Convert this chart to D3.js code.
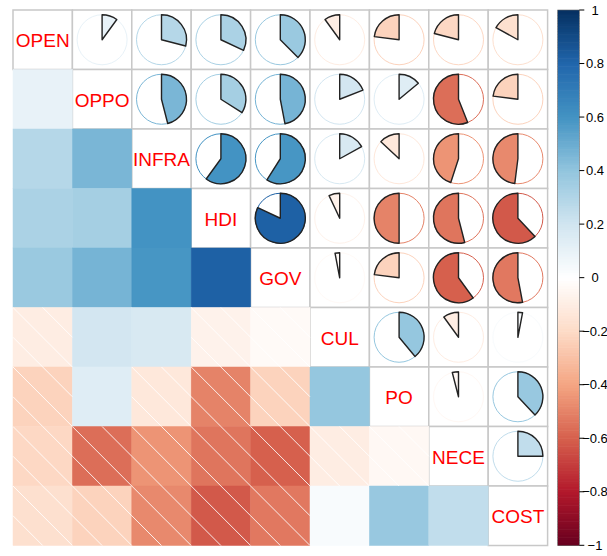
<!DOCTYPE html>
<html>
<head>
<meta charset="utf-8">
<script src="https://cdn.jsdelivr.net/npm/d3@7"></script>
<style>
  html, body { margin: 0; padding: 0; background: #fff; }
  svg { display: block; }
</style>
</head>
<body>
<svg id="chart" width="607" height="556"></svg>
<script>
// Variables, in matrix order
const vars = ["OPEN", "OPPO", "INFRA", "HDI", "GOV", "CUL", "PO", "NECE", "COST"];

// Lower-triangle correlations: row variable vs. each earlier variable
const corrOPPO  = [0.10];
const corrINFRA = [0.29, 0.46];
const corrHDI   = [0.32, 0.34, 0.60];
const corrGOV   = [0.375, 0.47, 0.59, 0.82];
const corrCUL   = [-0.10, 0.19, 0.17, -0.07, -0.03];
const corrPO    = [-0.23, 0.14, -0.13, -0.50, -0.23, 0.39];
const corrNECE  = [-0.21, -0.56, -0.45, -0.54, -0.60, -0.10, -0.04];
const corrCOST  = [-0.17, -0.23, -0.48, -0.62, -0.53, 0.03, 0.38, 0.25];

const legendTicks = [-1, -0.8, -0.6, -0.4, -0.2, 0, 0.2, 0.4, 0.6, 0.8, 1];
const paletteStops = ["#67001F", "#B2182B", "#D6604D", "#F4A582", "#FDDBC7", "#FFFFFF",
                      "#D1E5F0", "#92C5DE", "#4393C3", "#2166AC", "#053061"];

// Build full symmetric matrix
const lowerRows = [[], corrOPPO, corrINFRA, corrHDI, corrGOV, corrCUL, corrPO, corrNECE, corrCOST];
const n = vars.length;
const M = vars.map((_, i) => vars.map((_, j) => {
  if (i === j) return 1;
  return i > j ? lowerRows[i][j] : lowerRows[j][i];
}));

const svg = d3.select("#chart");

const x = d3.scaleBand().domain(vars).range([13, 547.6]);
const y = d3.scaleBand().domain(vars).range([10, 545.5]);
const cw = x.bandwidth(), ch = y.bandwidth();

const color = d3.scaleLinear()
  .domain(legendTicks)
  .range(paletteStops)
  .interpolate(d3.interpolateRgb);

const cells = [];
for (let i = 0; i < n; i++) for (let j = 0; j < n; j++) cells.push({ i, j, r: M[i][j] });

// Grid for upper triangle and diagonal
const upper = cells.filter(d => d.j >= d.i);
svg.append("g").selectAll("rect").data(upper).join("rect")
  .attr("x", d => x(vars[d.j]))
  .attr("y", d => y(vars[d.i]))
  .attr("width", cw).attr("height", ch)
  .attr("fill", "#fff")
  .attr("stroke", "#c8c8c8")
  .attr("stroke-width", 1.5);

// Lower triangle: shaded cells
const lower = cells.filter(d => d.i > d.j);
const shade = svg.append("g");
shade.selectAll("rect").data(lower).join("rect")
  .attr("x", d => x(vars[d.j]))
  .attr("y", d => y(vars[d.i]))
  .attr("width", cw).attr("height", ch)
  .attr("fill", d => color(d.r))
  .attr("stroke", d => color(d.r))
  .attr("stroke-width", 0.5);

// White hatching on negative cells
const hatch = [];
lower.filter(d => d.r < 0).forEach(d => {
  const x0 = x(vars[d.j]), y0 = y(vars[d.i]);
  hatch.push([x0, y0, x0 + cw, y0 + ch]);
  hatch.push([x0, y0 + ch / 2, x0 + cw / 2, y0 + ch]);
  hatch.push([x0 + cw / 2, y0, x0 + cw, y0 + ch / 2]);
});
shade.selectAll("line").data(hatch).join("line")
  .attr("x1", d => d[0]).attr("y1", d => d[1])
  .attr("x2", d => d[2]).attr("y2", d => d[3])
  .attr("stroke", "#fff")
  .attr("stroke-opacity", 0.85)
  .attr("stroke-width", 1);

// Upper triangle: pies
const R = 25;
const arc = d3.arc().innerRadius(0).outerRadius(R);
const pies = svg.append("g").selectAll("g").data(cells.filter(d => d.j > d.i)).join("g")
  .attr("transform", d => `translate(${x(vars[d.j]) + cw / 2},${y(vars[d.i]) + ch / 2})`);
pies.append("circle")
  .attr("r", R)
  .attr("fill", "none")
  .attr("stroke", d => color(d.r))
  .attr("stroke-width", 1);
pies.append("path")
  .attr("d", d => d.r >= 0
    ? arc({ startAngle: 0, endAngle: 2 * Math.PI * d.r })
    : arc({ startAngle: 2 * Math.PI * d.r, endAngle: 0 }))
  .attr("fill", d => color(d.r))
  .attr("stroke", "#222")
  .attr("stroke-width", 1.4)
  .attr("stroke-linejoin", "round");

// Diagonal labels
svg.append("g").selectAll("text").data(vars).join("text")
  .attr("x", d => x(d) + cw / 2)
  .attr("y", d => y(d) + ch / 2 + 7.5)
  .attr("text-anchor", "middle")
  .attr("font-family", "Liberation Sans, Arial, sans-serif")
  .attr("font-size", 19)
  .attr("fill", "#FF0000")
  .text(d => d);

// Colour legend
const ly = d3.scaleLinear().domain([-1, 1]).range([545.3, 10]);
const bx0 = 557.7, bx1 = 579.3;
const steps = d3.range(200).map(k => -1 + (k + 0.5) * 2 / 200);
const legend = svg.append("g");
legend.selectAll("rect").data(steps).join("rect")
  .attr("x", bx0)
  .attr("y", d => ly(d + 1 / 200))
  .attr("width", bx1 - bx0)
  .attr("height", Math.abs(ly(0) - ly(2 / 200)) + 0.6)
  .attr("fill", d => color(d));
legend.append("rect")
  .attr("x", bx0).attr("y", ly(1))
  .attr("width", bx1 - bx0).attr("height", ly(-1) - ly(1))
  .attr("fill", "none")
  .attr("stroke", "#666")
  .attr("stroke-width", 0.6);
legend.selectAll("line.tick").data(legendTicks).join("line")
  .attr("class", "tick")
  .attr("x1", bx1).attr("x2", bx1 + 5)
  .attr("y1", d => ly(d)).attr("y2", d => ly(d))
  .attr("stroke", "#000")
  .attr("stroke-width", 1);
legend.selectAll("text").data(legendTicks).join("text")
  .attr("x", 595)
  .attr("y", d => ly(d))
  .attr("dy", "0.36em")
  .attr("text-anchor", "middle")
  .attr("font-family", "Liberation Sans, Arial, sans-serif")
  .attr("font-size", 13)
  .attr("fill", "#000")
  .text(d => d3.format("")(+d.toFixed(1)));
</script>
</body>
</html>
